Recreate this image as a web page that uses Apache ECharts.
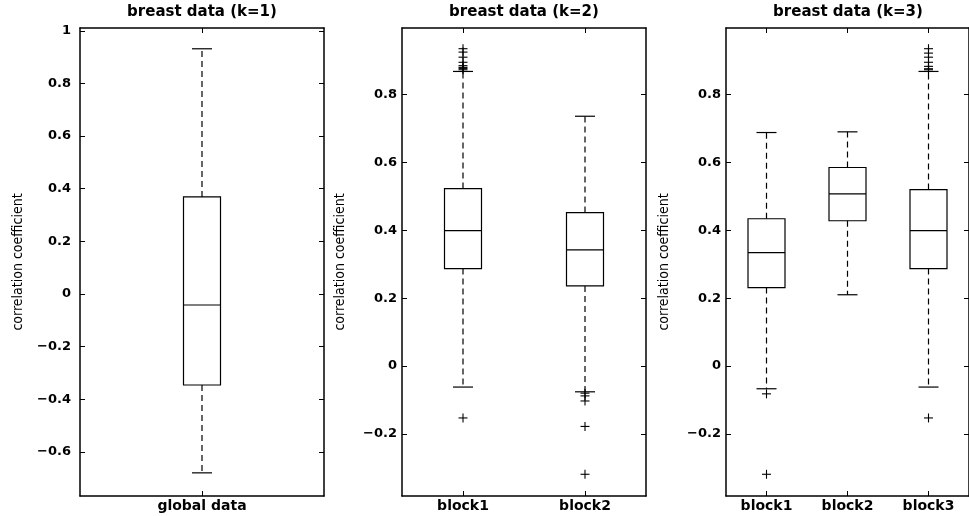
<!DOCTYPE html>
<html>
<head>
<meta charset="utf-8">
<script src="https://cdn.jsdelivr.net/npm/echarts@6/dist/echarts.min.js"></script>
<style>
html, body { margin: 0; background: #fff; }
#main { width: 969px; height: 516px; }
</style>
</head>
<body>
<div id="main"></div>
<script>
var titles = ['breast data (k=1)', 'breast data (k=2)', 'breast data (k=3)'];
var cats1 = ['global data'];
var cats2 = ['block1', 'block2'];
var cats3 = ['block1', 'block2', 'block3'];

// [lower whisker, q1, median, q3, upper whisker]
var box1 = [[-0.68, -0.346, -0.042, 0.369, 0.932]];
var box2 = [[-0.062, 0.287, 0.399, 0.523, 0.868],
            [-0.076, 0.236, 0.342, 0.452, 0.736]];
var box3 = [[-0.067, 0.231, 0.334, 0.434, 0.688],
            [0.21, 0.428, 0.507, 0.585, 0.69],
            [-0.062, 0.287, 0.399, 0.520, 0.868]];

// outliers: [category index, value]
var out1 = [];
var out2 = [[0, 0.873], [0, 0.877], [0, 0.880], [0, 0.885], [0, 0.895], [0, 0.910], [0, 0.925], [0, 0.935], [0, -0.153],
            [1, -0.080], [1, -0.088], [1, -0.103], [1, -0.178], [1, -0.319]];
var out3 = [[0, -0.082], [0, -0.319],
            [2, 0.873], [2, 0.876], [2, 0.883], [2, 0.895], [2, 0.910], [2, 0.922], [2, 0.935], [2, -0.153]];

var yTicks1 = [-0.6, -0.4, -0.2, 0, 0.2, 0.4, 0.6, 0.8, 1];
var yTicks23 = [-0.2, 0, 0.2, 0.4, 0.6, 0.8];
var yRange1 = [-0.768, 1.011];
var yRange23 = [-0.383, 0.996];

var myChart = echarts.init(document.getElementById('main'));

var FONT = '"DejaVu Sans", sans-serif';
var NARROW = '"Liberation Sans Narrow", "DejaVu Sans Condensed", sans-serif';
var lefts = [80, 402, 726];
var W = 244;

var panels = [
    {cats: cats1, box: box1, out: out1, ticks: yTicks1, range: yRange1, margin: 9},
    {cats: cats2, box: box2, out: out2, ticks: yTicks23, range: yRange23, margin: 5},
    {cats: cats3, box: box3, out: out3, ticks: yTicks23, range: yRange23, margin: 5}
];

function fmt(v) {
    var s = String(Math.abs(v));
    return v < 0 ? '\u2212' + s : s;
}

function renderBox(params, api) {
    var c = api.value(0);
    var lo = api.coord([c, api.value(1)]);
    var q1 = api.coord([c, api.value(2)]);
    var md = api.coord([c, api.value(3)]);
    var q3 = api.coord([c, api.value(4)]);
    var hi = api.coord([c, api.value(5)]);
    var cx = lo[0], hw = 18.5, cw = 10;
    var solid = {stroke: '#000', lineWidth: 1.2};
    var dash = {stroke: '#000', lineWidth: 1.2, lineDash: [6, 4]};
    return {
        type: 'group',
        children: [
            {type: 'rect', shape: {x: cx - hw, y: q3[1], width: hw * 2, height: q1[1] - q3[1]},
             style: {fill: 'none', stroke: '#000', lineWidth: 1.2}},
            {type: 'line', shape: {x1: cx - hw, y1: md[1], x2: cx + hw, y2: md[1]}, style: solid},
            {type: 'line', shape: {x1: cx, y1: q3[1], x2: cx, y2: hi[1]}, style: dash},
            {type: 'line', shape: {x1: cx, y1: q1[1], x2: cx, y2: lo[1]}, style: dash},
            {type: 'line', shape: {x1: cx - cw, y1: hi[1], x2: cx + cw, y2: hi[1]}, style: solid},
            {type: 'line', shape: {x1: cx - cw, y1: lo[1], x2: cx + cw, y2: lo[1]}, style: solid}
        ]
    };
}

function renderPlus(params, api) {
    var p = api.coord([api.value(0), api.value(1)]);
    var h = 4.5;
    var st = {stroke: '#000', lineWidth: 1.1};
    return {
        type: 'group',
        children: [
            {type: 'line', shape: {x1: p[0] - h, y1: p[1], x2: p[0] + h, y2: p[1]}, style: st},
            {type: 'line', shape: {x1: p[0], y1: p[1] - h, x2: p[0], y2: p[1] + h}, style: st}
        ]
    };
}

var grid = [], xAxis = [], yAxis = [], series = [], title = [];
var axisLine = {show: true, onZero: false, lineStyle: {color: '#000', width: 1.5}};

panels.forEach(function(p, i) {
    grid.push({left: lefts[i], top: 28, width: W, height: 468});
    title.push({
        text: titles[i], left: lefts[i] + W / 2, top: 5, textAlign: 'center', padding: 0,
        textStyle: {fontFamily: FONT, fontSize: 15, fontWeight: 'bold', color: '#000'}
    });
    [false, true].forEach(function(mirror) {
        xAxis.push({
            type: 'category', gridIndex: i, data: p.cats, boundaryGap: true,
            position: mirror ? 'top' : 'bottom',
            axisLine: axisLine,
            axisTick: {show: true, inside: true, alignWithLabel: true, length: 5, lineStyle: {color: '#000'}},
            axisLabel: {show: !mirror, margin: 3, color: '#000', fontFamily: FONT, fontSize: 14, fontWeight: 'bold'},
            splitLine: {show: false}
        });
        yAxis.push({
            type: 'value', gridIndex: i, min: p.range[0], max: p.range[1],
            position: mirror ? 'right' : 'left',
            name: mirror ? '' : 'correlation coefficient',
            nameLocation: 'middle', nameGap: 55,
            nameTextStyle: {fontFamily: NARROW, fontSize: 14, color: '#000'},
            axisLine: axisLine,
            axisTick: {show: true, inside: true, length: 5, customValues: p.ticks, lineStyle: {color: '#000'}},
            axisLabel: {show: !mirror, customValues: p.ticks, formatter: fmt, margin: p.margin,
                        color: '#000', fontFamily: FONT, fontSize: 13, fontWeight: 'bold'},
            splitLine: {show: false}
        });
    });
    series.push({
        type: 'custom', coordinateSystem: 'cartesian2d',
        xAxisIndex: i * 2, yAxisIndex: i * 2,
        renderItem: renderBox,
        encode: {x: 0, y: [1, 2, 3, 4, 5]},
        data: p.box.map(function(b, k) { return [k].concat(b); })
    });
    series.push({
        type: 'custom', coordinateSystem: 'cartesian2d',
        xAxisIndex: i * 2, yAxisIndex: i * 2,
        renderItem: renderPlus,
        encode: {x: 0, y: 1},
        data: p.out
    });
});

myChart.setOption({
    backgroundColor: '#fff',
    animation: false,
    title: title,
    grid: grid,
    xAxis: xAxis,
    yAxis: yAxis,
    series: series
});
</script>
</body>
</html>
